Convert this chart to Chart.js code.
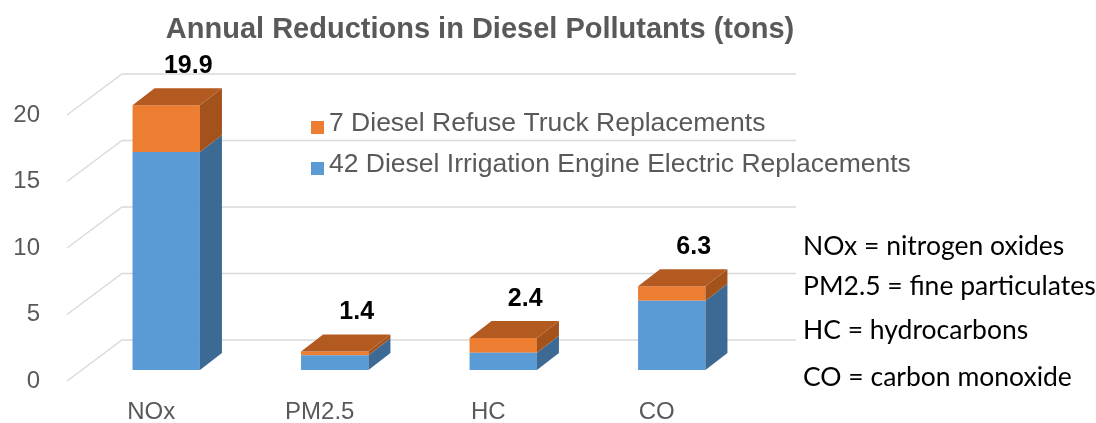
<!DOCTYPE html>
<html>
<head>
<meta charset="utf-8">
<title>Annual Reductions in Diesel Pollutants</title>
<script src="https://cdn.jsdelivr.net/npm/chart.js@4/dist/chart.umd.min.js"></script>
<style>
  body { margin: 0; background: #fff; }
  #wrap { width: 1096px; height: 423px; }
</style>
</head>
<body>
<div id="wrap"><canvas id="pollutantChart" width="1096" height="423"></canvas></div>
<script>
// Chart data
const categories = ['NOx', 'PM2.5', 'HC', 'CO'];
const irrigationValues = [16.4, 1.1, 1.3, 5.2];   // 42 Diesel Irrigation Engine Electric Replacements
const refuseValues = [3.5, 0.3, 1.1, 1.1];        // 7 Diesel Refuse Truck Replacements
const yTicks = [0, 5, 10, 15, 20];
const notes = [
    'NOx = nitrogen oxides',
    'PM2.5 = fine particulates',
    'HC = hydrocarbons',
    'CO = carbon monoxide'
];
const chartTitle = 'Annual Reductions in Diesel Pollutants (tons)';

// Colors for fake 3D faces
const frontColors = ['#5B9BD5', '#ED7D31'];
const sideColors = ['#3D6A95', '#A4521C'];
const topColors = ['#4A7FB0', '#B35A21'];

// Offsets of the 3D look (bar depth, back wall, front floor edge)
const depth = { dx: 22, dy: -17 };
const wall = { dx: 40, dy: -30 };
const floorEdge = { dx: -15, dy: 11 };

const textFont = '"Liberation Sans", Arial, sans-serif';

function fillPoly(ctx, pts, color) {
    ctx.fillStyle = color;
    ctx.beginPath();
    ctx.moveTo(pts[0][0], pts[0][1]);
    for (let k = 1; k < pts.length; k++) ctx.lineTo(pts[k][0], pts[k][1]);
    ctx.closePath();
    ctx.fill();
}

const pseudo3d = {
    id: 'pseudo3d',
    beforeDatasetsDraw(chart) {
        const { ctx, chartArea } = chart;
        const y = chart.scales.y;
        ctx.save();
        ctx.strokeStyle = '#D9D9D9';
        ctx.lineWidth = 1.3;
        y.ticks.forEach(t => {
            const py = y.getPixelForValue(t.value);
            ctx.beginPath();
            ctx.moveTo(chartArea.left + floorEdge.dx, py + floorEdge.dy);
            ctx.lineTo(chartArea.left + wall.dx, py + wall.dy);
            ctx.lineTo(chartArea.right + wall.dx, py + wall.dy);
            ctx.stroke();
        });
        ctx.restore();
    },
    afterDatasetsDraw(chart) {
        const { ctx } = chart;
        const last = chart.data.datasets.length - 1;
        ctx.save();
        chart.data.datasets.forEach((ds, i) => {
            chart.getDatasetMeta(i).data.forEach(bar => {
                const { x, y, base, width } = bar.getProps(['x', 'y', 'base', 'width'], true);
                const l = x - width / 2, r = x + width / 2;
                fillPoly(ctx, [[r, y], [r + depth.dx, y + depth.dy], [r + depth.dx, base + depth.dy], [r, base]], sideColors[i]);
                if (i === last) {
                    fillPoly(ctx, [[l, y], [l + depth.dx, y + depth.dy], [r + depth.dx, y + depth.dy], [r, y]], topColors[i]);
                }
            });
        });

        // totals above each stack
        const topMeta = chart.getDatasetMeta(last);
        ctx.fillStyle = '#000';
        ctx.font = 'bold 25px ' + textFont;
        ctx.textAlign = 'center';
        ctx.textBaseline = 'middle';
        topMeta.data.forEach((bar, j) => {
            const total = chart.data.datasets.reduce((s, ds) => s + ds.data[j], 0);
            ctx.fillText(total.toFixed(1), bar.x + depth.dx, bar.y + depth.dy - 22);
        });
        ctx.restore();
    },
    afterDraw(chart) {
        const { ctx } = chart;
        ctx.save();

        // Title
        ctx.fillStyle = '#595959';
        ctx.font = 'bold 29px ' + textFont;
        ctx.textAlign = 'center';
        ctx.textBaseline = 'middle';
        ctx.fillText(chartTitle, 480, 30);

        // Legend (top series first)
        ctx.font = '26.5px ' + textFont;
        ctx.textAlign = 'left';
        const ds = chart.data.datasets.slice().reverse();
        ds.forEach((d, k) => {
            const cy = 124 + k * 41;
            ctx.fillStyle = d.backgroundColor;
            ctx.fillRect(311, cy - 3, 13, 13);
            ctx.fillStyle = '#595959';
            ctx.fillText(d.label, 329, cy);
        });

        // Abbreviation notes
        ctx.fillStyle = '#000';
        ctx.font = '26.5px Lato, "Open Sans", sans-serif';
        const noteY = [246, 286, 330, 377];
        notes.forEach((n, k) => ctx.fillText(n, 803, noteY[k]));
        ctx.restore();
    }
};

const ctx = document.getElementById('pollutantChart');
new Chart(ctx, {
    type: 'bar',
    data: {
        labels: categories,
        datasets: [
            {
                label: '42 Diesel Irrigation Engine Electric Replacements',
                data: irrigationValues,
                backgroundColor: frontColors[0],
                borderWidth: 0
            },
            {
                label: '7 Diesel Refuse Truck Replacements',
                data: refuseValues,
                backgroundColor: frontColors[1],
                borderWidth: 0
            }
        ]
    },
    options: {
        responsive: false,
        animation: false,
        categoryPercentage: 1,
        barPercentage: 0.4,
        layout: {
            padding: { top: 104, right: 340, bottom: 0, left: 0 }
        },
        plugins: {
            legend: { display: false },
            title: { display: false },
            tooltip: { enabled: false }
        },
        scales: {
            x: {
                stacked: true,
                grid: { display: false, drawTicks: false },
                border: { display: false },
                ticks: {
                    color: '#595959',
                    font: { family: textFont, size: 24 },
                    padding: 28,
                    labelOffset: floorEdge.dx
                },
                afterFit(scale) { scale.height = 53; }
            },
            y: {
                stacked: true,
                min: 0,
                max: 20,
                afterBuildTicks(scale) {
                    scale.ticks = yTicks.map(v => ({ value: v }));
                },
                grid: { display: false, drawTicks: false },
                border: { display: false },
                ticks: {
                    color: '#595959',
                    font: { family: textFont, size: 24, lineHeight: 0.8 },
                    padding: 42,
                    labelOffset: floorEdge.dy
                },
                afterFit(scale) { scale.width = 82; }
            }
        }
    },
    plugins: [pseudo3d]
});
</script>
</body>
</html>
